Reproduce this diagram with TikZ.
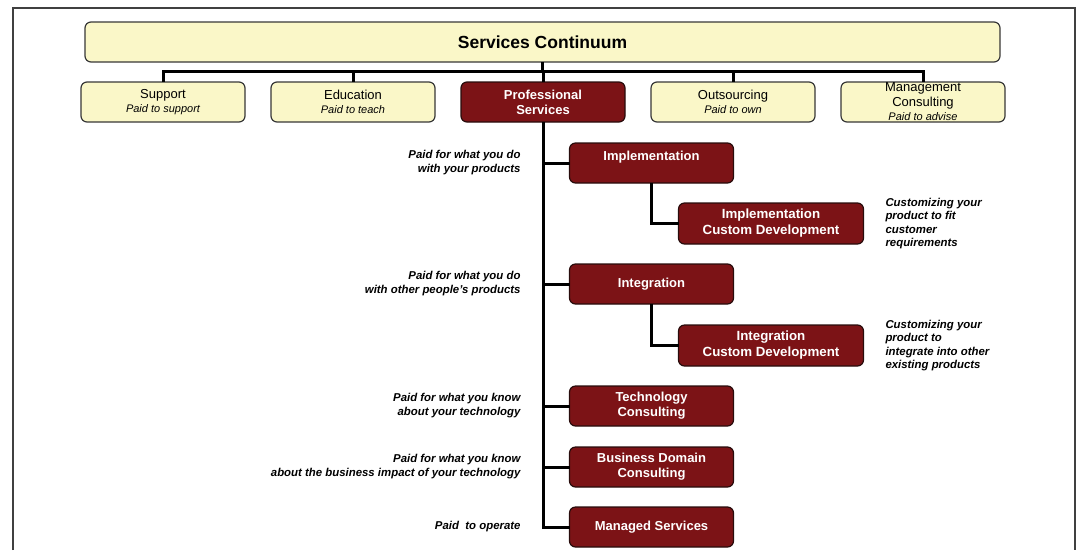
\documentclass[tikz,border=0pt]{standalone}
\usepackage{fontspec}
\setmainfont{Liberation Sans}
\usetikzlibrary{positioning}

\definecolor{yfill}{RGB}{250,247,200}
\definecolor{yline}{RGB}{55,55,55}
\definecolor{rfill}{RGB}{124,19,22}
\definecolor{rline}{RGB}{40,12,12}

\begin{document}
\begin{tikzpicture}[x=1pt,y=-1pt,
    ybox/.style={draw=yline, fill=yfill, line width=1.2pt, rounded corners=6pt,
      minimum width=164pt, minimum height=40pt, inner xsep=2pt, inner ysep=0pt,
      outer sep=0pt, align=center, font=\fontsize{13}{14}\selectfont},
    rbox/.style={ybox, draw=rline, fill=rfill, text=white,
      font=\fontsize{13}{15}\selectfont\bfseries},
    cdbox/.style={rbox, minimum width=185pt, minimum height=41pt,
      font=\fontsize{13.3}{16}\selectfont\bfseries},
    conn/.style={line width=3pt},
    note/.style={inner sep=0pt, outer sep=0pt,
      font=\fontsize{11.4}{14}\selectfont\bfseries\itshape},
    frame/.style={draw=black!75, line width=1.3pt}]
  \useasboundingbox (0,0) rectangle (1078,550);
  \draw[frame] (13,550) -- (13,8) -- (1075,8) -- (1075,550);

  % top and first row
  \node[ybox, minimum width=915pt, font=\fontsize{17.5}{20}\selectfont\bfseries]
    (cont) at (542.5,42) {Services Continuum};
  \node[ybox] (support) at (163,102) {Support\\{\fontsize{11}{14}\selectfont\itshape Paid to support}};
  \node[ybox, right=26pt of support] (educ) {Education\\{\fontsize{11}{14}\selectfont\itshape Paid to teach}};
  \node[rbox, right=26pt of educ] (prof) {Professional\\Services};
  \node[ybox, right=26pt of prof] (outs) {Outsourcing\\{\fontsize{11}{14}\selectfont\itshape Paid to own}};
  \node[ybox, right=26pt of outs, font=\fontsize{13}{14.5}\selectfont] (mgmt)
    {Management\\Consulting\\{\fontsize{11}{14}\selectfont\itshape Paid to advise}};

  % professional services
  \node[rbox, below=21pt of prof.south, anchor=north, xshift=108.5pt] (impl) {Implementation\\\mbox{}};
  \node[cdbox, below=20pt of impl.south, anchor=north west, xshift=27pt] (implcd)
    {Implementation\\Custom Development};
  \node[rbox, below=81pt of impl] (integ) {Integration};
  \node[cdbox, below=21pt of integ.south, anchor=north west, xshift=27pt] (integcd)
    {Integration\\Custom Development};
  \node[rbox, below=82pt of integ] (tech) {Technology\\Consulting};
  \node[rbox, below=21pt of tech] (busdom) {Business Domain\\Consulting};
  \node[rbox, below=20pt of busdom] (managed) {Managed Services};

  % notes
  \node[note, align=right, left=49pt of impl.west] (nimpl) {Paid for what you do\\with your products};
  \node[note, align=right, left=49pt of integ.west] (ninteg) {Paid for what you do\\with other people's products};
  \node[note, align=right, left=49pt of tech.west] (ntech) {Paid for what you know\\about your technology};
  \node[note, align=right, left=49pt of busdom.west] (nbusdom)
    {Paid for what you know\\about the business impact of your technology};
  \node[note, align=right, left=49pt of managed.west] (nmanaged) {Paid\ \ to operate};
  \node[note, align=left, font=\fontsize{11.4}{13.5}\selectfont\bfseries\itshape,
    right=22pt of implcd.east] (nimplcd) {Customizing your\\product to fit\\customer\\requirements};
  \node[note, align=left, font=\fontsize{11.4}{13.5}\selectfont\bfseries\itshape,
    right=22pt of integcd.east] (nintegcd)
    {Customizing your\\product to\\integrate into other\\existing products};

  % connectors
  \coordinate (bus) at (542.5,71);
  \draw[conn] (cont.south) -- (bus);
  \draw[conn] (support.north) |- (mgmt.north |- bus) -- (mgmt.north);
  \foreach \n in {educ,prof,outs}
    \draw[conn] (\n.north) -- (\n.north |- bus);
  \draw[conn] (prof.south) |- (managed.west);
  \foreach \n in {impl,integ,tech,busdom}
    \draw[conn] (prof.south |- \n.west) -- (\n.west);
  \draw[conn] (impl.south) |- (implcd.west);
  \draw[conn] (integ.south) |- (integcd.west);
\end{tikzpicture}
\end{document}
